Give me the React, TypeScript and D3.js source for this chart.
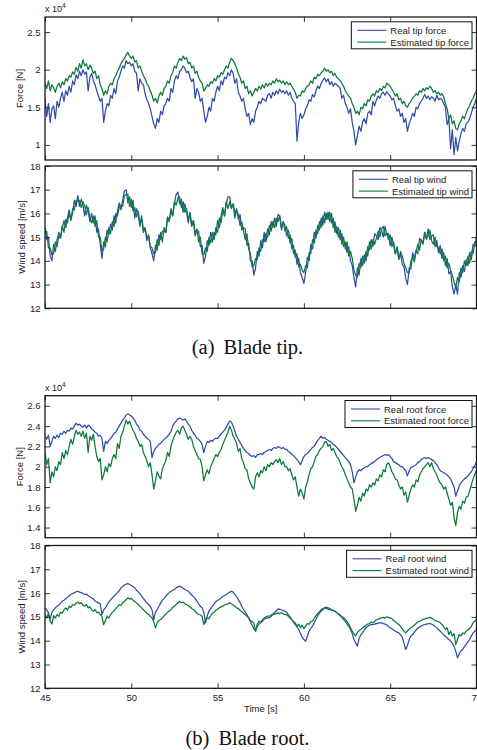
import React, { useEffect, useRef } from "react";
import * as d3 from "d3";

// samples every 0.1 s starting at 45 s
const T0 = 45;
const DT = 0.1;
const timeTicks = [45, 50, 55, 60, 65, 70];

// force values in units of 10^4 N
const tipForceReal = [
  1.62, 1.38, 1.55, 1.30, 1.48, 1.52, 1.35, 1.58, 1.50, 1.62,
  1.70, 1.58, 1.72, 1.66, 1.78, 1.70, 1.85, 1.80, 1.93, 1.88,
  1.98, 1.92, 2.00, 1.94, 1.97, 1.72, 1.90, 1.95, 1.86, 1.80,
  1.72, 1.65, 1.58, 1.62, 1.30, 1.45, 1.55, 1.52, 1.66, 1.62,
  1.75, 1.68, 1.85, 1.90, 1.98, 2.05, 2.02, 2.12, 2.08, 2.10,
  2.05, 2.08, 1.98, 1.95, 1.72, 1.88, 1.82, 1.80, 1.68, 1.60,
  1.55, 1.48, 1.38, 1.28, 1.22, 1.35, 1.30, 1.45, 1.40, 1.52,
  1.55, 1.62, 1.58, 1.75, 1.70, 1.85, 1.92, 1.88, 1.98, 2.00,
  2.05, 2.02, 1.96, 1.98, 1.90, 1.84, 1.88, 1.62, 1.75, 1.70,
  1.58, 1.62, 1.45, 1.30, 1.38, 1.50, 1.45, 1.62, 1.58, 1.70,
  1.78, 1.72, 1.85, 1.80, 1.90, 1.88, 1.96, 1.92, 2.00, 1.95,
  1.82, 1.88, 1.70, 1.65, 1.58, 1.62, 1.48, 1.38, 1.42, 1.27,
  1.35, 1.30, 1.45, 1.50, 1.58, 1.55, 1.62, 1.60, 1.58, 1.66,
  1.68, 1.62, 1.70, 1.66, 1.72, 1.68, 1.74, 1.70, 1.72, 1.68,
  1.72, 1.66, 1.70, 1.62, 1.58, 1.55, 1.05, 1.30, 1.42, 1.35,
  1.40, 1.48, 1.52, 1.60, 1.58, 1.67, 1.64, 1.72, 1.78, 1.75,
  1.82, 1.86, 1.89, 1.84, 1.88, 1.80, 1.84, 1.78, 1.82, 1.80,
  1.78, 1.75, 1.62, 1.66, 1.55, 1.50, 1.42, 1.48, 1.30, 1.18,
  1.00, 1.12, 1.25, 1.18, 1.30, 1.35, 1.28, 1.42, 1.45, 1.40,
  1.58, 1.52, 1.60, 1.65, 1.62, 1.68, 1.70, 1.66, 1.71, 1.68,
  1.65, 1.60, 1.62, 1.52, 1.45, 1.48, 1.38, 1.42, 1.30, 1.35,
  1.18, 1.28, 1.35, 1.42, 1.38, 1.50, 1.48, 1.55, 1.58, 1.62,
  1.67, 1.62, 1.65, 1.60, 1.64, 1.62, 1.58, 1.66, 1.60, 1.62,
  1.60, 1.55, 1.50, 1.27, 1.35, 0.95, 1.20, 0.87, 1.10, 0.92,
  1.05, 1.15, 1.22, 1.18, 1.28, 1.30, 1.35, 1.42, 1.50, 1.55,
  1.62,
];
const tipForceEst = [
  1.82, 1.75, 1.85, 1.72, 1.80, 1.76, 1.70, 1.78, 1.82, 1.76,
  1.84, 1.80, 1.88, 1.85, 1.92, 1.90, 1.97, 1.94, 2.03, 1.98,
  2.08, 2.02, 2.13, 2.05, 2.08, 2.00, 2.06, 2.02, 1.95, 1.98,
  1.88, 1.92, 1.80, 1.75, 1.66, 1.72, 1.68, 1.78, 1.82, 1.80,
  1.88, 1.92, 1.98, 2.02, 2.08, 2.12, 2.15, 2.20, 2.23, 2.18,
  2.15, 2.18, 2.10, 2.12, 2.02, 2.05, 1.98, 1.92, 1.88, 1.82,
  1.78, 1.72, 1.66, 1.58, 1.62, 1.56, 1.65, 1.70, 1.66, 1.75,
  1.78, 1.85, 1.82, 1.92, 1.96, 2.05, 2.02, 2.10, 2.15, 2.12,
  2.18, 2.14, 2.16, 2.08, 2.10, 2.02, 2.05, 1.95, 1.98, 1.90,
  1.85, 1.82, 1.72, 1.75, 1.80, 1.78, 1.84, 1.82, 1.88, 1.85,
  1.92, 1.90, 1.96, 1.94, 2.00, 2.05, 2.02, 2.10, 2.15, 2.12,
  2.08, 2.02, 1.95, 1.90, 1.82, 1.85, 1.75, 1.78, 1.68, 1.72,
  1.65, 1.70, 1.75, 1.72, 1.78, 1.74, 1.80, 1.76, 1.82, 1.78,
  1.82, 1.80, 1.85, 1.82, 1.88, 1.84, 1.86, 1.82, 1.85, 1.80,
  1.84, 1.80, 1.82, 1.78, 1.74, 1.70, 1.62, 1.66, 1.65, 1.72,
  1.70, 1.75, 1.78, 1.80, 1.85, 1.82, 1.90, 1.88, 1.94, 1.92,
  1.96, 1.98, 2.02, 1.98, 2.00, 1.96, 1.98, 1.92, 1.95, 1.90,
  1.88, 1.85, 1.82, 1.78, 1.72, 1.68, 1.65, 1.62, 1.55, 1.50,
  1.42, 1.45, 1.40, 1.50, 1.48, 1.55, 1.52, 1.60, 1.58, 1.65,
  1.68, 1.65, 1.72, 1.70, 1.75, 1.72, 1.78, 1.76, 1.82, 1.80,
  1.78, 1.74, 1.70, 1.65, 1.68, 1.60, 1.62, 1.55, 1.58, 1.52,
  1.50, 1.55, 1.58, 1.62, 1.65, 1.68, 1.66, 1.72, 1.70, 1.75,
  1.72, 1.76, 1.74, 1.78, 1.75, 1.70, 1.72, 1.68, 1.70, 1.66,
  1.68, 1.64, 1.55, 1.48, 1.35, 1.40, 1.28, 1.32, 1.22, 1.20,
  1.28, 1.32, 1.38, 1.35, 1.42, 1.48, 1.52, 1.58, 1.62, 1.68,
  1.72,
];

// wind speed in m/s
const tipWindReal = [
  15.4, 14.9, 15.0, 14.2, 14.0, 14.7, 14.4, 14.9, 15.2, 15.0,
  15.4, 15.7, 15.4, 15.8, 16.15, 15.75, 16.0, 16.55, 16.3, 16.75,
  16.3, 16.6, 16.35, 15.9, 16.35, 16.1, 15.65, 16.0, 15.6, 15.9,
  15.2, 15.35, 14.7, 14.1, 14.8, 14.6, 15.3, 15.1, 15.55, 15.3,
  15.9, 15.6, 16.1, 16.45, 16.15, 16.55, 16.95, 17.0, 16.45, 16.7,
  16.25, 16.55, 15.8, 16.2, 15.95, 15.45, 15.9, 15.3, 15.4, 14.85,
  15.1, 14.55, 14.3, 14.0, 14.65, 14.45, 15.1, 14.9, 15.25, 15.25,
  15.2, 15.85, 15.7, 16.2, 15.9, 16.45, 16.8, 16.9, 16.4, 16.6,
  16.05, 16.4, 16.1, 15.6, 16.05, 15.5, 15.7, 15.05, 15.3, 15.25,
  14.6, 14.65, 13.9, 14.2, 14.85, 14.65, 15.2, 14.8, 15.2, 15.1,
  15.7, 15.4, 15.9, 16.25, 15.9, 16.4, 16.7, 16.7, 16.25, 16.4,
  15.8, 16.2, 15.75, 15.95, 15.3, 15.4, 15.35, 14.65, 14.75, 14.0,
  14.0, 13.4, 13.7, 14.4, 14.2, 14.85, 14.55, 15.2, 14.8, 15.35,
  15.1, 15.65, 15.4, 15.8, 15.45, 15.95, 15.9, 15.3, 15.65, 15.5,
  15.05, 15.3, 14.75, 14.95, 14.3, 14.45, 13.85, 14.1, 13.5, 13.3,
  13.05, 13.5, 14.15, 14.0, 14.7, 14.5, 15.2, 14.95, 15.5, 15.3,
  15.8, 15.5, 16.05, 15.75, 16.05, 15.65, 16.0, 15.4, 15.65, 15.15,
  15.4, 14.9, 15.15, 14.6, 14.8, 14.35, 14.6, 14.0, 13.8, 13.3,
  12.9, 13.7, 13.4, 14.1, 13.8, 14.25, 14.0, 14.6, 14.45, 14.9,
  14.6, 15.15, 15.05, 14.9, 15.4, 15.3, 15.0, 15.45, 15.1, 15.15,
  14.65, 15.0, 14.65, 14.3, 14.55, 14.05, 14.3, 13.85, 13.75, 13.25,
  13.0, 13.7, 13.65, 14.35, 14.1, 14.45, 14.3, 14.95, 14.85, 14.7,
  15.2, 14.9, 15.35, 14.9, 15.05, 15.1, 14.6, 14.85, 14.35, 14.65,
  14.1, 14.35, 13.8, 14.1, 13.45, 13.55, 12.9, 12.6, 13.0, 12.6,
  13.5, 13.3, 13.8, 13.55, 14.05, 13.8, 14.35, 14.05, 14.7, 14.6,
  15.0,
];
const tipWindEst = [
  15.1, 15.25, 14.55, 14.55, 14.25, 14.3, 14.8, 14.6, 15.05, 14.95,
  15.5, 15.2, 15.75, 15.6, 16.0, 15.7, 16.2, 16.15, 16.55, 16.5,
  16.55, 16.25, 16.5, 16.3, 15.95, 16.25, 15.85, 15.6, 15.9, 15.45,
  15.7, 15.0, 15.0, 14.4, 14.5, 15.0, 14.8, 15.4, 15.15, 15.65,
  15.45, 16.0, 15.9, 16.25, 16.35, 16.3, 16.75, 16.8, 16.8, 16.3,
  16.6, 16.1, 16.25, 15.85, 16.1, 15.6, 15.75, 15.2, 15.35, 15.0,
  15.05, 14.6, 14.55, 14.3, 14.35, 14.9, 14.65, 15.2, 14.8, 15.4,
  15.2, 15.8, 15.65, 16.1, 15.9, 16.5, 16.35, 16.65, 16.7, 16.25,
  16.5, 16.05, 16.2, 15.75, 16.0, 15.45, 15.7, 15.15, 15.35, 14.8,
  15.0, 14.3, 14.25, 14.55, 14.4, 15.0, 14.75, 15.2, 14.9, 15.4,
  15.2, 15.8, 15.6, 16.15, 15.9, 16.5, 16.2, 16.5, 16.2, 16.4,
  16.0, 16.15, 15.95, 15.5, 15.65, 15.25, 14.9, 15.15, 14.5, 14.3,
  13.75, 13.8, 14.1, 14.05, 14.55, 14.4, 14.9, 14.8, 15.15, 15.0,
  15.5, 15.25, 15.65, 15.4, 15.8, 15.65, 15.9, 15.4, 15.65, 15.25,
  15.45, 14.95, 15.1, 14.5, 14.65, 14.15, 14.3, 13.75, 13.85, 13.6,
  13.5, 13.8, 13.7, 14.35, 14.3, 14.9, 14.75, 15.3, 15.15, 15.65,
  15.4, 15.9, 15.6, 16.0, 15.75, 16.05, 15.6, 15.8, 15.2, 15.45,
  15.0, 15.3, 14.7, 15.0, 14.5, 14.8, 14.2, 14.4, 14.1, 13.6,
  13.4, 13.3, 13.9, 13.7, 14.2, 13.9, 14.4, 14.2, 14.8, 14.5,
  14.9, 14.7, 14.95, 15.25, 15.0, 15.35, 15.45, 15.05, 15.2, 14.9,
  15.1, 14.6, 14.8, 14.3, 14.6, 14.1, 14.4, 14.2, 13.9, 13.7,
  13.5, 13.5, 14.0, 14.15, 13.95, 14.4, 14.7, 14.45, 14.9, 14.75,
  15.2, 14.95, 15.05, 15.3, 14.85, 14.7, 15.0, 14.6, 14.55, 14.3,
  14.5, 14.0, 14.2, 13.7, 13.9, 13.6, 13.4, 13.1, 12.9, 13.3,
  13.1, 13.7, 13.5, 14.0, 13.8, 14.2, 13.9, 14.4, 14.3, 14.8,
  14.8,
];

const rootForceReal = [
  2.30, 2.27, 2.31, 2.20, 2.25, 2.30, 2.28, 2.31, 2.29, 2.33,
  2.32, 2.35, 2.33, 2.36, 2.35, 2.38, 2.37, 2.40, 2.43, 2.41,
  2.42, 2.40, 2.39, 2.41, 2.38, 2.41, 2.40, 2.37, 2.36, 2.34,
  2.33, 2.30, 2.31, 2.28, 2.15, 2.25, 2.23, 2.26, 2.28, 2.30,
  2.33, 2.34, 2.37, 2.40, 2.43, 2.46, 2.48, 2.51, 2.52, 2.51,
  2.50, 2.48, 2.46, 2.42, 2.40, 2.36, 2.35, 2.32, 2.30, 2.28,
  2.27, 2.25, 2.09, 2.15, 2.18, 2.20, 2.22, 2.23, 2.25, 2.27,
  2.28, 2.30, 2.32, 2.35, 2.40, 2.43, 2.45, 2.47, 2.48, 2.47,
  2.46, 2.47, 2.45, 2.42, 2.40, 2.36, 2.33, 2.31, 2.28, 2.27,
  2.25, 2.22, 2.14, 2.20, 2.25, 2.24, 2.26, 2.25, 2.27, 2.28,
  2.28, 2.30, 2.32, 2.34, 2.36, 2.39, 2.42, 2.45, 2.44, 2.40,
  2.35, 2.30, 2.27, 2.24, 2.21, 2.18, 2.16, 2.14, 2.13, 2.11,
  2.10, 2.11, 2.09, 2.12, 2.12, 2.13, 2.12, 2.14, 2.15, 2.16,
  2.17, 2.16, 2.18, 2.19, 2.18, 2.20, 2.19, 2.18, 2.19, 2.17,
  2.17, 2.15, 2.14, 2.12, 2.11, 2.09, 2.07, 2.05, 2.02, 2.06,
  2.10, 2.12, 2.13, 2.15, 2.17, 2.19, 2.20, 2.23, 2.26, 2.28,
  2.30, 2.28, 2.29, 2.27, 2.26, 2.25, 2.24, 2.22, 2.21, 2.19,
  2.17, 2.15, 2.13, 2.11, 2.09, 2.07, 2.05, 2.02, 1.95, 1.84,
  1.90, 1.95, 1.97, 1.96, 1.98, 1.99, 2.00, 2.00, 2.02, 2.03,
  2.04, 2.05, 2.07, 2.08, 2.09, 2.10, 2.11, 2.12, 2.11, 2.12,
  2.10, 2.08, 2.05, 2.04, 2.03, 2.02, 2.00, 2.00, 1.98, 1.96,
  1.91, 1.96, 1.99, 2.00, 2.01, 2.02, 2.04, 2.05, 2.07, 2.08,
  2.09, 2.08, 2.09, 2.08, 2.07, 2.06, 2.04, 2.02, 1.99, 1.96,
  1.95, 1.94, 1.93, 1.92, 1.90, 1.88, 1.84, 1.80, 1.71, 1.76,
  1.81, 1.84, 1.86, 1.88, 1.89, 1.91, 1.93, 1.95, 1.98, 2.01,
  2.05,
];
const rootForceEst = [
  2.14, 2.02, 2.08, 1.84, 1.95, 1.90, 2.00, 1.96, 2.05, 2.02,
  2.14, 2.08, 2.16, 2.12, 2.20, 2.27, 2.22, 2.30, 2.36, 2.32,
  2.34, 2.30, 2.35, 2.28, 2.33, 2.14, 2.30, 2.26, 2.32, 2.20,
  2.10, 2.05, 2.08, 1.87, 1.92, 2.00, 1.95, 2.03, 2.00, 2.08,
  2.12, 2.08, 2.23, 2.18, 2.30, 2.34, 2.40, 2.46, 2.42, 2.45,
  2.40, 2.36, 2.33, 2.28, 2.25, 2.20, 2.22, 2.14, 2.10, 2.06,
  2.00, 2.04, 1.92, 1.78, 1.86, 1.95, 1.91, 1.88, 1.98, 2.02,
  2.06, 2.14, 2.10, 2.20, 2.26, 2.30, 2.34, 2.36, 2.32, 2.38,
  2.40, 2.36, 2.32, 2.27, 2.30, 2.27, 2.20, 2.16, 2.12, 2.08,
  2.07, 2.00, 1.86, 1.92, 1.97, 1.93, 2.00, 2.04, 2.08, 2.12,
  2.10, 2.14, 2.17, 2.22, 2.26, 2.30, 2.34, 2.40, 2.36, 2.30,
  2.27, 2.23, 2.15, 2.18, 2.08, 2.04, 1.98, 1.97, 1.88, 1.84,
  1.80, 1.78, 1.90, 1.94, 1.90, 1.96, 1.94, 2.00, 1.96, 2.02,
  2.00, 2.04, 2.02, 2.05, 2.07, 2.04, 2.08, 2.02, 2.05, 2.00,
  2.00, 1.96, 1.98, 1.92, 1.87, 1.90, 1.80, 1.71, 1.78, 1.74,
  1.68, 1.80, 1.85, 1.92, 1.98, 2.00, 2.05, 2.10, 2.12, 2.16,
  2.18, 2.20, 2.24, 2.25, 2.20, 2.22, 2.16, 2.18, 2.14, 2.10,
  2.08, 2.04, 2.00, 1.97, 1.92, 1.88, 1.84, 1.80, 1.78, 1.68,
  1.56, 1.62, 1.70, 1.66, 1.74, 1.71, 1.78, 1.76, 1.82, 1.80,
  1.84, 1.82, 1.88, 1.86, 1.92, 1.90, 1.97, 1.95, 2.02, 2.04,
  2.00, 1.95, 1.92, 1.88, 1.87, 1.82, 1.78, 1.80, 1.72, 1.75,
  1.65, 1.72, 1.78, 1.82, 1.80, 1.87, 1.85, 1.92, 1.95, 1.98,
  2.00, 2.02, 2.04, 2.00, 2.04, 1.98, 1.95, 1.92, 1.87, 1.84,
  1.82, 1.78, 1.80, 1.74, 1.68, 1.62, 1.65, 1.50, 1.42, 1.55,
  1.61, 1.58, 1.66, 1.64, 1.70, 1.71, 1.76, 1.82, 1.88, 1.92,
  1.97,
];

const rootWindReal = [
  15.38, 15.30, 15.17, 14.90, 15.20, 15.30, 15.38, 15.45, 15.50, 15.58,
  15.66, 15.70, 15.76, 15.82, 15.88, 15.94, 15.98, 16.02, 16.05, 16.08,
  16.04, 16.02, 15.98, 15.94, 15.96, 15.90, 15.85, 15.80, 15.75, 15.68,
  15.62, 15.59, 15.55, 15.10, 15.30, 15.38, 15.50, 15.62, 15.72, 15.80,
  15.87, 15.95, 16.02, 16.10, 16.22, 16.28, 16.34, 16.38, 16.40, 16.36,
  16.32, 16.28, 16.22, 16.12, 16.05, 15.98, 15.87, 15.78, 15.68, 15.60,
  15.52, 15.45, 15.30, 14.89, 15.20, 15.31, 15.45, 15.58, 15.70, 15.78,
  15.87, 15.95, 16.02, 16.08, 16.12, 16.15, 16.22, 16.26, 16.29, 16.25,
  16.20, 16.15, 16.12, 16.08, 16.00, 15.92, 15.85, 15.78, 15.66, 15.55,
  15.45, 15.38, 15.20, 14.75, 15.05, 15.24, 15.35, 15.45, 15.55, 15.65,
  15.70, 15.73, 15.80, 15.86, 15.90, 15.94, 15.98, 16.04, 16.08, 16.04,
  15.95, 15.85, 15.73, 15.60, 15.45, 15.31, 15.20, 15.10, 14.96, 14.80,
  14.65, 14.50, 14.40, 14.60, 14.70, 14.75, 14.82, 14.90, 14.94, 14.96,
  14.96, 15.02, 15.10, 15.18, 15.26, 15.34, 15.32, 15.30, 15.26, 15.24,
  15.20, 15.10, 15.00, 14.89, 14.78, 14.68, 14.58, 14.47, 14.30, 14.15,
  14.05, 13.98, 14.20, 14.40, 14.52, 14.61, 14.75, 14.90, 15.05, 15.15,
  15.24, 15.30, 15.38, 15.36, 15.32, 15.30, 15.28, 15.26, 15.24, 15.18,
  15.12, 15.05, 14.98, 14.89, 14.80, 14.70, 14.60, 14.47, 14.30, 14.05,
  13.90, 13.77, 14.10, 14.25, 14.33, 14.45, 14.55, 14.60, 14.65, 14.68,
  14.68, 14.70, 14.72, 14.74, 14.75, 14.75, 14.72, 14.70, 14.66, 14.60,
  14.54, 14.50, 14.45, 14.40, 14.36, 14.33, 14.25, 14.15, 13.90, 13.63,
  13.80, 14.05, 14.20, 14.26, 14.35, 14.45, 14.52, 14.58, 14.61, 14.66,
  14.68, 14.70, 14.72, 14.72, 14.70, 14.66, 14.60, 14.55, 14.47, 14.40,
  14.32, 14.25, 14.18, 14.12, 14.05, 13.98, 13.90, 13.75, 13.55, 13.28,
  13.45, 13.58, 13.63, 13.75, 13.85, 13.95, 14.05, 14.20, 14.32, 14.40,
  14.47,
];
const rootWindEst = [
  15.10, 14.95, 15.15, 14.82, 14.70, 15.05, 14.95, 15.10, 15.02, 15.20,
  15.15, 15.30, 15.38, 15.28, 15.45, 15.40, 15.52, 15.48, 15.58, 15.62,
  15.55, 15.60, 15.48, 15.45, 15.52, 15.38, 15.42, 15.30, 15.24, 15.30,
  15.18, 15.20, 15.10, 15.02, 14.68, 14.85, 15.03, 14.95, 15.10, 15.20,
  15.25, 15.35, 15.42, 15.52, 15.48, 15.60, 15.65, 15.72, 15.80, 15.75,
  15.78, 15.70, 15.65, 15.59, 15.52, 15.45, 15.38, 15.30, 15.24, 15.15,
  15.10, 15.02, 14.96, 14.80, 14.54, 14.75, 14.85, 14.89, 14.95, 15.05,
  15.12, 15.20, 15.25, 15.31, 15.40, 15.45, 15.52, 15.58, 15.66, 15.60,
  15.62, 15.55, 15.52, 15.48, 15.42, 15.35, 15.30, 15.24, 15.15, 15.10,
  15.08, 15.03, 14.68, 14.85, 14.96, 14.92, 15.05, 15.15, 15.20, 15.28,
  15.32, 15.38, 15.42, 15.45, 15.50, 15.52, 15.55, 15.59, 15.55, 15.50,
  15.45, 15.38, 15.35, 15.28, 15.22, 15.15, 15.10, 15.02, 14.96, 14.85,
  14.80, 14.75, 14.40, 14.70, 14.82, 14.78, 14.88, 14.95, 15.00, 15.03,
  15.03, 15.08, 15.12, 15.10, 15.15, 15.17, 15.14, 15.18, 15.12, 15.10,
  15.10, 15.02, 14.95, 14.88, 14.80, 14.75, 14.60, 14.70, 14.55, 14.65,
  14.50, 14.61, 14.72, 14.70, 14.80, 14.82, 14.95, 15.05, 15.15, 15.22,
  15.31, 15.35, 15.38, 15.41, 15.38, 15.35, 15.30, 15.28, 15.24, 15.18,
  15.12, 15.08, 15.02, 14.96, 14.90, 14.80, 14.70, 14.54, 14.40, 14.30,
  14.19, 14.35, 14.42, 14.47, 14.55, 14.58, 14.65, 14.70, 14.72, 14.78,
  14.75, 14.82, 14.88, 14.90, 14.94, 14.96, 14.98, 14.95, 15.00, 14.98,
  14.96, 14.92, 14.85, 14.80, 14.72, 14.68, 14.60, 14.50, 14.40, 14.33,
  14.42, 14.48, 14.54, 14.60, 14.65, 14.72, 14.78, 14.82, 14.85, 14.90,
  14.92, 14.95, 14.96, 14.98, 14.94, 14.90, 14.85, 14.82, 14.80, 14.75,
  14.68, 14.60, 14.47, 14.55, 14.26, 14.40, 14.20, 14.30, 13.84, 14.05,
  14.26, 14.20, 14.32, 14.30, 14.40, 14.45, 14.52, 14.60, 14.75, 14.82,
  14.89,
];

const tipForceTicks = [1, 1.5, 2, 2.5];
const rootForceTicks = [1.4, 1.6, 1.8, 2, 2.2, 2.4, 2.6];
const windTicks = [12, 13, 14, 15, 16, 17, 18];

const tipForceNames = ["Real tip force", "Estimated tip force"];
const tipWindNames = ["Real tip wind", "Estimated tip wind"];
const rootForceNames = ["Real root force", "Estimated root force"];
const rootWindNames = ["Real root wind", "Estimated root wind"];

const BLUE = "#2f4ea6";
const GREEN = "#0b7a3a";
const FONT = "'Liberation Sans', Arial, sans-serif";

const App = () => {
  const ref = useRef<SVGSVGElement>(null);

  useEffect(() => {
    const svg = d3.select(ref.current);
    svg.selectAll("*").remove();

    const left = 45;
    const right = 476.5;
    const x = d3.scaleLinear().domain([45, 70]).range([left, right]);

    const panels = [
      { top: 17, bottom: 160, domain: [0.8, 2.7], ticks: tipForceTicks, label: "Force [N]", labelX: 22.5, exp: true, real: tipForceReal, est: tipForceEst, names: tipForceNames, xLabels: false },
      { top: 166, bottom: 308.3, domain: [12, 18], ticks: windTicks, label: "Wind speed [m/s]", labelX: 24.5, exp: false, real: tipWindReal, est: tipWindEst, names: tipWindNames, xLabels: false },
      { top: 395.7, bottom: 537.7, domain: [1.3, 2.7], ticks: rootForceTicks, label: "Force [N]", labelX: 22.5, exp: true, real: rootForceReal, est: rootForceEst, names: rootForceNames, xLabels: false },
      { top: 545.5, bottom: 688.3, domain: [12, 18], ticks: windTicks, label: "Wind speed [m/s]", labelX: 24.5, exp: false, real: rootWindReal, est: rootWindEst, names: rootWindNames, xLabels: true },
    ];

    panels.forEach((p, pi) => {
      const y = d3.scaleLinear().domain(p.domain).range([p.bottom, p.top]);
      const g = svg.append("g");

      const clipId = "clip" + pi;
      g.append("clipPath").attr("id", clipId)
        .append("rect").attr("x", left).attr("y", p.top)
        .attr("width", right - left).attr("height", p.bottom - p.top);

      const line = d3.line<number>()
        .x((d, i) => x(T0 + i * DT))
        .y((d) => y(d));

      const lines = g.append("g").attr("clip-path", `url(#${clipId})`);
      lines.append("path").datum(p.real)
        .attr("fill", "none").attr("stroke", BLUE).attr("stroke-width", 1.25)
        .attr("stroke-linejoin", "round").attr("d", line);
      lines.append("path").datum(p.est)
        .attr("fill", "none").attr("stroke", GREEN).attr("stroke-width", 1.25)
        .attr("stroke-linejoin", "round").attr("d", line);

      // axes, ticks pointing inward
      const yl = g.append("g").attr("transform", `translate(${left},0)`)
        .call(d3.axisLeft(y).tickValues(p.ticks).tickSize(-5).tickPadding(4.5).tickFormat(d3.format("~g")));
      g.append("g").attr("transform", `translate(${right},0)`)
        .call(d3.axisRight(y).tickValues(p.ticks).tickSize(-5).tickFormat(() => ""));
      g.append("g").attr("transform", `translate(0,${p.top})`)
        .call(d3.axisTop(x).tickValues(timeTicks).tickSize(-5).tickFormat(() => ""));
      const xb = g.append("g").attr("transform", `translate(0,${p.bottom})`)
        .call(d3.axisBottom(x).tickValues(timeTicks).tickSize(-5).tickPadding(6)
          .tickFormat(p.xLabels ? d3.format("d") : () => ""));

      g.selectAll(".domain").remove();
      g.selectAll(".tick line").attr("stroke", "#222").attr("stroke-width", 0.9);
      [yl, xb].forEach((a) => a.selectAll("text")
        .attr("font-family", FONT).attr("font-size", 9.5).attr("fill", "#222"));

      g.append("rect")
        .attr("x", left).attr("y", p.top)
        .attr("width", right - left).attr("height", p.bottom - p.top)
        .attr("fill", "none").attr("stroke", "#1a1a1a").attr("stroke-width", 1.3);

      g.append("text")
        .attr("transform", `translate(${p.labelX},${(p.top + p.bottom) / 2}) rotate(-90)`)
        .attr("text-anchor", "middle")
        .attr("font-family", FONT).attr("font-size", 9.5).attr("fill", "#222")
        .text(p.label);

      if (p.exp) {
        const t = g.append("text").attr("x", left).attr("y", p.top - 5)
          .attr("font-family", FONT).attr("font-size", 9).attr("fill", "#222");
        t.append("tspan").text("x 10");
        t.append("tspan").attr("dy", -4).attr("font-size", 6.5).text("4");
      }

      // legend
      const lg = g.append("g");
      const box = lg.append("rect").attr("fill", "#fff").attr("stroke", "#111").attr("stroke-width", 1);
      const texts = p.names.map((n, i) => lg.append("text")
        .attr("y", 12 + i * 11.8)
        .attr("font-family", FONT).attr("font-size", 9.5).attr("fill", "#222")
        .text(n));
      const tw = d3.max(texts, (t) => (t.node() as SVGTextElement).getComputedTextLength()) || 80;
      const bw = 39 + tw + 3;
      const bx = right - 4.5 - bw;
      const by = p.top + 4.8;
      lg.attr("transform", `translate(${bx},${by})`);
      box.attr("x", 0).attr("y", 0).attr("width", bw).attr("height", 27);
      texts.forEach((t) => t.attr("x", 39));
      [BLUE, GREEN].forEach((c, i) => lg.append("line")
        .attr("x1", 6).attr("x2", 35)
        .attr("y1", 8.5 + i * 11.8).attr("y2", 8.5 + i * 11.8)
        .attr("stroke", c).attr("stroke-width", 1.1));
    });

    svg.append("text")
      .attr("x", (left + right) / 2).attr("y", 712)
      .attr("text-anchor", "middle")
      .attr("font-family", FONT).attr("font-size", 9.5).attr("fill", "#222")
      .text("Time [s]");

    const captions = [
      { tag: "(a)", text: "Blade tip.", y: 354 },
      { tag: "(b)", text: "Blade root.", y: 745 },
    ];
    captions.forEach((c) => {
      const t = svg.append("text").attr("y", c.y)
        .attr("font-family", "'Liberation Serif', 'Times New Roman', serif")
        .attr("font-size", 20.5).attr("fill", "#111");
      t.append("tspan").text(c.tag);
      t.append("tspan").attr("dx", 9).text(c.text);
      const w = (t.node() as SVGTextElement).getComputedTextLength() + 9;
      t.attr("x", 247.5 - w / 2);
    });
  }, []);

  return (
    <svg
      ref={ref}
      width={477}
      height={750}
      style={{ position: "absolute", left: 0, top: 0, background: "#fff" }}
    />
  );
};

export default App;
